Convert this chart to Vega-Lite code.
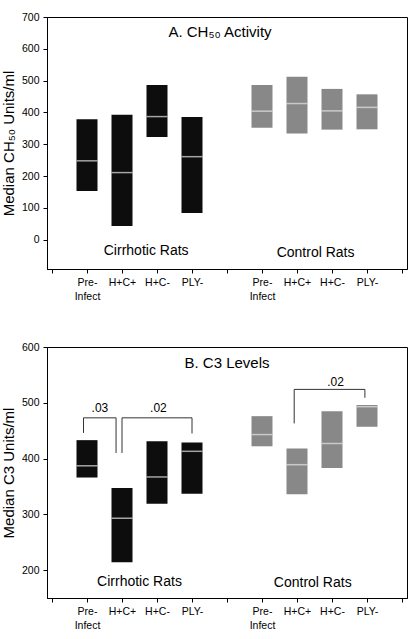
{
  "$schema": "https://vega.github.io/schema/vega-lite/v6.json",
  "background": "white",
  "padding": {"top": 11, "left": 0, "right": 5, "bottom": 5},
  "spacing": 39,
  "config": {
    "font": "Liberation Sans",
    "view": {"stroke": "black", "strokeWidth": 1},
    "axis": {
      "grid": false,
      "domainColor": "black",
      "tickColor": "black",
      "labelColor": "black",
      "titleColor": "black",
      "labelFont": "Liberation Sans",
      "titleFont": "Liberation Sans",
      "labelFontSize": 10,
      "tickSize": 4,
      "labelPadding": 4
    },
    "axisX": {
      "title": null,
      "values": [0, 1, 2, 3, 4, 5, 6, 7, 8, 9, 10],
      "labelExpr": "datum.value == 1 || datum.value == 6 ? ['Pre-', 'Infect'] : datum.value == 2 || datum.value == 7 ? 'H+C+' : datum.value == 3 || datum.value == 8 ? 'H+C-' : datum.value == 4 || datum.value == 9 ? 'PLY-' : ''",
      "labelFlush": false,
      "labelOverlap": false,
      "labelLineHeight": 14,
      "labelFontSize": 10.5
    },
    "axisY": {
      "titleFontSize": 15,
      "titleFontWeight": "normal",
      "titlePadding": 5,
      "labelFontSize": 10.5,
      "labelOverlap": false
    },
    "text": {"font": "Liberation Sans", "color": "black"}
  },
  "datasets": {
    "ch50": [
      {"group": "Cirrhotic Rats", "cond": "Pre-Infect", "pos": 1, "low": 153, "high": 379, "med": 248},
      {"group": "Cirrhotic Rats", "cond": "H+C+", "pos": 2, "low": 43, "high": 393, "med": 211},
      {"group": "Cirrhotic Rats", "cond": "H+C-", "pos": 3, "low": 323, "high": 486, "med": 387},
      {"group": "Cirrhotic Rats", "cond": "PLY-", "pos": 4, "low": 84, "high": 386, "med": 261},
      {"group": "Control Rats", "cond": "Pre-Infect", "pos": 6, "low": 352, "high": 486, "med": 404},
      {"group": "Control Rats", "cond": "H+C+", "pos": 7, "low": 334, "high": 512, "med": 428},
      {"group": "Control Rats", "cond": "H+C-", "pos": 8, "low": 346, "high": 474, "med": 405},
      {"group": "Control Rats", "cond": "PLY-", "pos": 9, "low": 347, "high": 457, "med": 416}
    ],
    "c3": [
      {"group": "Cirrhotic Rats", "cond": "Pre-Infect", "pos": 1, "low": 366, "high": 433, "med": 387},
      {"group": "Cirrhotic Rats", "cond": "H+C+", "pos": 2, "low": 214, "high": 347, "med": 293},
      {"group": "Cirrhotic Rats", "cond": "H+C-", "pos": 3, "low": 319, "high": 431, "med": 367},
      {"group": "Cirrhotic Rats", "cond": "PLY-", "pos": 4, "low": 337, "high": 429, "med": 413},
      {"group": "Control Rats", "cond": "Pre-Infect", "pos": 6, "low": 422, "high": 476, "med": 443},
      {"group": "Control Rats", "cond": "H+C+", "pos": 7, "low": 336, "high": 418, "med": 389},
      {"group": "Control Rats", "cond": "H+C-", "pos": 8, "low": 383, "high": 485, "med": 427},
      {"group": "Control Rats", "cond": "PLY-", "pos": 9, "low": 457, "high": 496, "med": 493}
    ],
    "titlesA": [{"pos": 4.8, "med": 652, "label": "A. CH₅₀ Activity"}],
    "groupsA": [
      {"pos": 2.69, "med": -36, "label": "Cirrhotic Rats"},
      {"pos": 7.53, "med": -41, "label": "Control Rats"}
    ],
    "titlesB": [{"pos": 5.0, "med": 571, "label": "B. C3 Levels"}],
    "groupsB": [
      {"pos": 2.5, "med": 179, "label": "Cirrhotic Rats"},
      {"pos": 7.45, "med": 177, "label": "Control Rats"}
    ],
    "pvalsB": [
      {"pos": 1.37, "med": 490, "label": ".03"},
      {"pos": 3.04, "med": 490, "label": ".02"},
      {"pos": 8.1, "med": 538, "label": ".02"}
    ],
    "bracketsB": [
      {"pos": 0.9, "bx2": 0.9, "med": 446, "by2": 473},
      {"pos": 0.9, "bx2": 1.83, "med": 473, "by2": 473},
      {"pos": 1.83, "bx2": 1.83, "med": 410, "by2": 473},
      {"pos": 2.0, "bx2": 2.0, "med": 410, "by2": 473},
      {"pos": 2.0, "bx2": 4.0, "med": 473, "by2": 473},
      {"pos": 4.0, "bx2": 4.0, "med": 445, "by2": 473},
      {"pos": 6.92, "bx2": 6.92, "med": 463, "by2": 524},
      {"pos": 6.92, "bx2": 8.94, "med": 524, "by2": 524},
      {"pos": 8.94, "bx2": 8.94, "med": 509, "by2": 524}
    ]
  },
  "vconcat": [
    {
      "width": 360,
      "height": 252,
      "layer": [
        {
          "data": {"name": "ch50"},
          "mark": {"type": "bar", "width": 21},
          "encoding": {
            "x": {"field": "pos", "type": "quantitative", "scale": {"domain": [0, 10], "nice": false, "zero": false}},
            "y": {
              "field": "low", "type": "quantitative",
              "scale": {"domain": [-92, 700], "nice": false, "zero": false},
              "axis": {"title": "Median CH₅₀ Units/ml", "values": [0, 100, 200, 300, 400, 500, 600, 700]}
            },
            "y2": {"field": "high"},
            "color": {
              "field": "group", "type": "nominal",
              "scale": {"domain": ["Cirrhotic Rats", "Control Rats"], "range": ["#0d0d0d", "#888888"]},
              "legend": null
            }
          }
        },
        {
          "data": {"name": "ch50"},
          "mark": {"type": "tick", "orient": "horizontal", "size": 21, "thickness": 1.5, "color": "#e6e6e6"},
          "encoding": {
            "x": {"field": "pos", "type": "quantitative"},
            "y": {"field": "med", "type": "quantitative", "axis": {"title": "Median CH₅₀ Units/ml", "values": [0, 100, 200, 300, 400, 500, 600, 700]}}
          }
        },
        {
          "data": {"name": "titlesA"},
          "mark": {"type": "text", "fontSize": 15, "baseline": "middle", "align": "center"},
          "encoding": {
            "x": {"field": "pos", "type": "quantitative"},
            "y": {"field": "med", "type": "quantitative", "axis": {"title": "Median CH₅₀ Units/ml", "values": [0, 100, 200, 300, 400, 500, 600, 700]}},
            "text": {"field": "label"}
          }
        },
        {
          "data": {"name": "groupsA"},
          "mark": {"type": "text", "fontSize": 14, "baseline": "middle", "align": "center"},
          "encoding": {
            "x": {"field": "pos", "type": "quantitative"},
            "y": {"field": "med", "type": "quantitative", "axis": {"title": "Median CH₅₀ Units/ml", "values": [0, 100, 200, 300, 400, 500, 600, 700]}},
            "text": {"field": "label"}
          }
        }
      ]
    },
    {
      "width": 360,
      "height": 251,
      "layer": [
        {
          "data": {"name": "c3"},
          "mark": {"type": "bar", "width": 21},
          "encoding": {
            "x": {"field": "pos", "type": "quantitative", "scale": {"domain": [0, 10], "nice": false, "zero": false}},
            "y": {
              "field": "low", "type": "quantitative",
              "scale": {"domain": [150, 600], "nice": false, "zero": false},
              "axis": {"title": "Median C3 Units/ml", "values": [200, 300, 400, 500, 600]}
            },
            "y2": {"field": "high"},
            "color": {
              "field": "group", "type": "nominal",
              "scale": {"domain": ["Cirrhotic Rats", "Control Rats"], "range": ["#0d0d0d", "#888888"]},
              "legend": null
            }
          }
        },
        {
          "data": {"name": "c3"},
          "mark": {"type": "tick", "orient": "horizontal", "size": 21, "thickness": 1.5, "color": "#e6e6e6"},
          "encoding": {
            "x": {"field": "pos", "type": "quantitative"},
            "y": {"field": "med", "type": "quantitative", "axis": {"title": "Median C3 Units/ml", "values": [200, 300, 400, 500, 600]}}
          }
        },
        {
          "data": {"name": "bracketsB"},
          "mark": {"type": "rule", "color": "#333333", "strokeWidth": 1},
          "encoding": {
            "x": {"field": "pos", "type": "quantitative"},
            "x2": {"field": "bx2"},
            "y": {"field": "med", "type": "quantitative", "axis": {"title": "Median C3 Units/ml", "values": [200, 300, 400, 500, 600]}},
            "y2": {"field": "by2"}
          }
        },
        {
          "data": {"name": "titlesB"},
          "mark": {"type": "text", "fontSize": 15, "baseline": "middle", "align": "center"},
          "encoding": {
            "x": {"field": "pos", "type": "quantitative"},
            "y": {"field": "med", "type": "quantitative", "axis": {"title": "Median C3 Units/ml", "values": [200, 300, 400, 500, 600]}},
            "text": {"field": "label"}
          }
        },
        {
          "data": {"name": "groupsB"},
          "mark": {"type": "text", "fontSize": 14, "baseline": "middle", "align": "center"},
          "encoding": {
            "x": {"field": "pos", "type": "quantitative"},
            "y": {"field": "med", "type": "quantitative", "axis": {"title": "Median C3 Units/ml", "values": [200, 300, 400, 500, 600]}},
            "text": {"field": "label"}
          }
        },
        {
          "data": {"name": "pvalsB"},
          "mark": {"type": "text", "fontSize": 12, "baseline": "middle", "align": "center"},
          "encoding": {
            "x": {"field": "pos", "type": "quantitative"},
            "y": {"field": "med", "type": "quantitative", "axis": {"title": "Median C3 Units/ml", "values": [200, 300, 400, 500, 600]}},
            "text": {"field": "label"}
          }
        }
      ]
    }
  ]
}
